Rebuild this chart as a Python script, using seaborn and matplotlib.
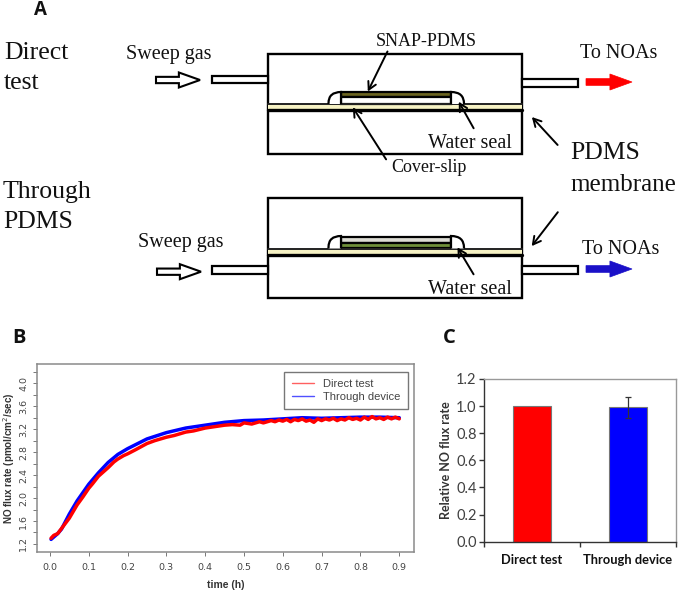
import matplotlib
matplotlib.use("Agg")
import matplotlib.pyplot as plt
from matplotlib.patches import Rectangle, Polygon, PathPatch
from matplotlib.path import Path
import pandas as pd
import seaborn as sns

sns.set_style("white")

W, H = 678, 590
SERIF = "Liberation Serif"
SANS = "Liberation Sans"
CAL = "Lato"

# panel B; the plateau keeps the visible jitter
time_direct = [0.003, 0.01, 0.02, 0.03, 0.05, 0.07, 0.085, 0.1, 0.11, 0.125, 0.14, 0.15, 0.165, 0.175, 0.19, 0.2,
               0.22, 0.25, 0.27, 0.3, 0.32, 0.35, 0.37, 0.4, 0.42, 0.45, 0.47, 0.49, 0.5, 0.52, 0.54, 0.55,
               0.57, 0.58, 0.59, 0.6, 0.61, 0.62, 0.63, 0.64, 0.65, 0.66, 0.67, 0.68, 0.69, 0.7, 0.71, 0.72,
               0.73, 0.74, 0.75, 0.76, 0.77, 0.78, 0.79, 0.8, 0.81, 0.82, 0.83, 0.84, 0.85, 0.86, 0.87, 0.88,
               0.89, 0.9]
direct_test = [1.30, 1.35, 1.38, 1.47, 1.65, 1.88, 2.02, 2.17, 2.25, 2.38, 2.47, 2.53, 2.63, 2.68, 2.74, 2.77,
               2.84, 2.95, 3.00, 3.06, 3.09, 3.15, 3.17, 3.22, 3.24, 3.27, 3.28, 3.27, 3.31, 3.29, 3.33, 3.31,
               3.35, 3.33, 3.36, 3.34, 3.37, 3.33, 3.37, 3.35, 3.38, 3.34, 3.36, 3.32, 3.38, 3.35, 3.38, 3.36,
               3.39, 3.35, 3.38, 3.36, 3.40, 3.37, 3.39, 3.36, 3.41, 3.37, 3.42, 3.38, 3.40, 3.37, 3.41, 3.38,
               3.41, 3.38]
time_through = [0.003, 0.02, 0.03, 0.05, 0.07, 0.1, 0.125, 0.15, 0.175, 0.2, 0.25, 0.3,
                0.35, 0.4, 0.45, 0.5, 0.55, 0.6, 0.65, 0.7, 0.75, 0.8, 0.85, 0.9]
through_device = [1.28, 1.38, 1.46, 1.72, 1.95, 2.24, 2.44, 2.62, 2.76, 2.86, 3.03, 3.14,
                  3.22, 3.27, 3.32, 3.35, 3.36, 3.38, 3.40, 3.39, 3.40, 3.41, 3.41, 3.40]
x_ticks_b = [0.0, 0.1, 0.2, 0.3, 0.4, 0.5, 0.6, 0.7, 0.8, 0.9]
y_major_b = [1.2, 1.6, 2.0, 2.4, 2.8, 3.2, 3.6, 4.0]
y_minor_b = [1.4, 1.8, 2.2, 2.6, 3.0, 3.4, 3.8, 4.2]

# panel C
groups = ["Direct test", "Through device"]
flux = [1.0, 0.99]
flux_err = [0.0, 0.075]
y_ticks_c = [0.0, 0.2, 0.4, 0.6, 0.8, 1.0, 1.2]


def place(left, top, right, bottom):
    return fig.add_axes([left / W, 1 - bottom / H, (right - left) / W, (bottom - top) / H])


fig = plt.figure(figsize=(W / 100, H / 100), dpi=100)

# diagram layer in image pixels
d = fig.add_axes([0, 0, 1, 1])
d.set_xlim(0, W)
d.set_ylim(H, 0)
d.axis("off")


def label(x, y, s, size=14.5, ha="left", family=SERIF, **kw):
    d.text(x, y, s, fontsize=size, ha=ha, va="center", family=family, color="#111111", **kw)


def rect(x0, y0, x1, y1, fc="white", lw=1.6, ec="black", z=2):
    d.add_patch(Rectangle((x0, y0), x1 - x0, y1 - y0, fc=fc, ec=ec, lw=lw, zorder=z))


def pointer(x0, y0, x1, y1):
    d.annotate("", xy=(x1, y1), xytext=(x0, y0), zorder=6,
               arrowprops=dict(arrowstyle="->,head_width=0.3,head_length=0.55", lw=1.4, color="black"))


def block_arrow(x0, x1, yc, half, fc, ec, lw):
    neck = x0 + (x1 - x0) * 0.52
    t = half * 0.42
    pts = [(x0, yc - t), (neck, yc - t), (neck, yc - half), (x1, yc), (neck, yc + half), (neck, yc + t), (x0, yc + t)]
    d.add_patch(Polygon(pts, closed=True, fc=fc, ec=ec, lw=lw, zorder=3))


def seal(x_wall, x_out, top, bottom):
    # rounded water seal, x_out is the free side
    r = abs(x_out - x_wall)
    verts = [(x_wall, bottom), (x_wall, top), (x_out, top), (x_out, top + r * 0.9), (x_out, bottom)]
    codes = [Path.MOVETO, Path.LINETO, Path.CURVE3, Path.CURVE3, Path.LINETO]
    d.add_patch(PathPatch(Path(verts, codes), fc="white", ec="black", lw=1.6, zorder=4))


def device(top, bottom, mem_top, mem_bot):
    rect(268, top, 522, bottom, lw=1.7, z=1)
    rect(268, mem_top, 522, mem_bot, fc="#f6f2c4", lw=0, ec="none", z=2)
    d.plot([268, 522], [mem_top, mem_top], color="#222222", lw=1.4, zorder=3)
    d.plot([268, 522], [mem_bot, mem_bot], color="black", lw=2.4, zorder=3)


# top device
device(54, 153.7, 104, 110)
rect(212, 75.7, 268, 83.3)
rect(522, 78.7, 578, 86.7)
rect(341, 92, 451, 97.3, fc="#6b6420")
rect(341, 97.3, 451, 103.5, fc="white")
seal(341, 328.5, 92, 104)
seal(451, 464, 92, 104)
block_arrow(156, 200, 80, 7.5, "white", "black", 1.5)
block_arrow(586, 632, 82, 8, "#ff0000", "#ff0000", 0.5)
pointer(388.7, 49, 366.6, 94)
pointer(475, 130.7, 457.4, 99.3)
pointer(387.6, 161.7, 351.3, 105)
pointer(559.5, 147, 530, 115)

# bottom device
device(198.3, 297.7, 248.5, 254.5)
rect(212, 266, 268, 274.3)
rect(522, 266, 578, 274.3)
rect(341, 237, 451, 242.5, fc="#dcdcd4")
rect(341, 242.5, 451, 248, fc="#6f8f3a")
seal(341, 328.5, 236, 248.5)
seal(451, 464, 236, 248.5)
block_arrow(157, 201, 271.7, 7.5, "white", "black", 1.5)
block_arrow(586, 632, 269, 8, "#1a10c8", "#1a10c8", 0.5)
pointer(475, 276.7, 456, 245)
pointer(559.5, 210, 530, 248.3)

label(4, 53, "Direct", size=18.5)
label(4, 83, "test", size=18.5)
label(3, 192, "Through", size=18.5)
label(3, 222, "PDMS", size=18.5)
label(126, 55, "Sweep gas")
label(138, 243, "Sweep gas")
label(426, 42, "SNAP-PDMS", size=13, ha="center")
label(580, 54, "To NOAs")
label(582, 249, "To NOAs")
label(428, 144, "Water seal")
label(428, 290, "Water seal")
label(429, 167, "Cover-slip", size=13, ha="center")
label(570, 153, "PDMS", size=18.5)
label(570, 185, "membrane", size=18)
label(34, 10, "A", size=13.5, family="Open Sans", fontweight="bold")
label(12, 338, "B", size=14.5, family="Open Sans", fontweight="bold")
label(443, 338, "C", size=14.5, family="Open Sans", fontweight="bold")

# panel B
ax = place(36.7, 364, 414, 552)
curves = pd.DataFrame({
    "time": time_through + time_direct,
    "flux": through_device + direct_test,
    "series": ["Through device"] * len(time_through) + ["Direct test"] * len(time_direct),
})
sns.lineplot(data=curves, x="time", y="flux", hue="series", palette=["#0000ff", "#ff0000"],
             linewidth=2.5, ax=ax, legend=False)
ax.plot([], [], color="#ff6060", lw=1, label="Direct test")
ax.plot([], [], color="#5050ff", lw=1, label="Through device")
ax.set_xlim(-0.034, 0.938)
ax.set_ylim(1.06, 4.336)
ax.set_xticks(x_ticks_b)
ax.set_xticklabels([f"{v:.1f}" for v in x_ticks_b])
ax.set_yticks(y_major_b)
ax.set_yticklabels([f"{v:.1f}" for v in y_major_b], rotation=90, va="center")
ax.set_yticks(y_minor_b, minor=True)
ax.tick_params(axis="both", which="both", direction="out", left=True, bottom=True, length=3,
               width=0.7, color="#777777", labelsize=6.8, labelcolor="#444444", pad=3)
ax.tick_params(axis="x", pad=5)
for s in ax.spines.values():
    s.set_color("#8a8a8a")
    s.set_linewidth(1.1)
ax.set_xlabel("time (h)", fontsize=7.5, fontweight="bold", family=SANS, color="#333333", labelpad=6)
ax.set_ylabel("NO flux rate (pmol/cm$^2$/sec)", fontsize=7.1, fontweight="bold", family=SANS,
              color="#333333", labelpad=2)
leg = ax.legend(loc="upper right", bbox_to_anchor=(0.985, 0.96), borderaxespad=0, fancybox=False,
                framealpha=1, edgecolor="#777777", labelcolor="#444444", handlelength=2.0,
                labelspacing=0.2, borderpad=0.7, prop={"family": SANS, "size": 8})
leg.get_frame().set_linewidth(1.0)

# panel C
ax2 = place(484.3, 379, 676, 541.7)
sns.barplot(x=groups, y=flux, hue=groups, palette=["#ff0000", "#0000ff"], width=0.4, legend=False,
            saturation=1, edgecolor="#777777", linewidth=0.8, ax=ax2)
ax2.errorbar([1], [flux[1]], yerr=[flux_err[1]], color="#333333", lw=0.9, capsize=2.5, capthick=0.9)
ax2.set_xlim(-0.5, 1.5)
ax2.set_ylim(0, 1.2)
ax2.set_yticks(y_ticks_c)
ax2.set_yticklabels([f"{v:.1f}" for v in y_ticks_c], family=CAL)
ax2.set_xticks([-0.5, 0.5, 1.5])
ax2.set_xticklabels([])
ax2.tick_params(axis="both", direction="out", left=True, bottom=True, length=3.5, width=1, color="#333333",
                labelsize=10.5, labelcolor="#404040", pad=2)
for name, col in [("left", "#333333"), ("bottom", "#333333"), ("top", "#999999"), ("right", "#999999")]:
    ax2.spines[name].set_color(col)
    ax2.spines[name].set_linewidth(1.0)
ax2.set_ylabel("Relative NO flux rate", fontsize=9, fontweight="bold", family=CAL, color="#333333", labelpad=3)
label(532, 560, groups[0], size=9.3, ha="center", family=CAL, fontweight="bold")
label(628, 560, groups[1], size=9.3, ha="center", family=CAL, fontweight="bold")

fig.savefig("out.png", dpi=100)
